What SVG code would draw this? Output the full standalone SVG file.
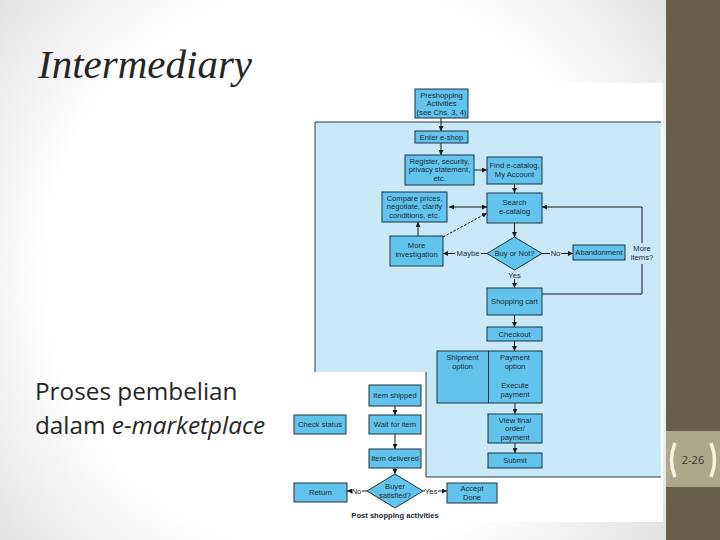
<svg xmlns="http://www.w3.org/2000/svg" width="720" height="540" viewBox="0 0 720 540">
<defs>
<radialGradient id="bg" cx="330" cy="270" r="520" gradientUnits="userSpaceOnUse">
<stop offset="0.55" stop-color="#ffffff"/>
<stop offset="1" stop-color="#cfcfcf"/>
</radialGradient>
<marker id="ah" viewBox="0 0 6 6" refX="6" refY="3" markerWidth="5" markerHeight="5" orient="auto-start-reverse" markerUnits="userSpaceOnUse">
<path d="M0,0 L6,3 L0,6 Z" fill="#1a1a1a"/>
</marker>
<style>
.box{fill:#62c4ec;stroke:#1c3340;stroke-width:1}
.t{font-family:"Liberation Sans",Arial,sans-serif;font-size:7.6px;fill:#1c2a33;text-anchor:middle}
.c{fill:none;stroke:#1a1a1a;stroke-width:1}
.a{marker-end:url(#ah)}
</style>
</defs>
<rect width="720" height="540" fill="url(#bg)"/>
<rect x="290" y="83" width="373" height="439" fill="#ffffff"/>
<rect x="666" y="0" width="54" height="540" fill="#675f49"/>
<rect x="666" y="431" width="54" height="56" fill="#aca889"/>
<g id="pagenum">
<path d="M675,443 Q668,460 675,477" fill="none" stroke="#f6f2df" stroke-width="3.5"/>
<path d="M711,443 Q718,460 711,477" fill="none" stroke="#f6f2df" stroke-width="3.5"/>
<text x="693" y="464" font-family="'Open Sans','DejaVu Sans',sans-serif" font-size="11" fill="#3a3626" text-anchor="middle">2-26</text>
</g>
<text x="38" y="78" font-family="'Liberation Serif','DejaVu Serif',serif" font-style="italic" font-size="41" fill="#262626">Intermediary</text>
<text font-family="'Open Sans','Noto Sans',sans-serif" font-size="24.3" fill="#262626">
<tspan x="35" y="400">Proses pembelian</tspan>
<tspan x="35" y="434">dalam <tspan font-style="italic">e-marketplace</tspan></tspan>
</text>
<g id="region">
<path d="M315,122 H661 V477 H426 V372 H315 Z" fill="#c9e9f9"/>
<path d="M315,372 V122 H661 M426,372 V477 H661" fill="none" stroke="#2a3a44" stroke-width="1"/>
</g>
<g id="connectors">
<line class="c a" x1="441" y1="118" x2="441" y2="131"/>
<line class="c a" x1="441" y1="143" x2="441" y2="155"/>
<line class="c a" x1="474" y1="170" x2="487" y2="170"/>
<line class="c a" x1="514.5" y1="184" x2="514.5" y2="193"/>
<line class="c a" x1="449" y1="207" x2="487" y2="207" marker-start="url(#ah)"/>
<line class="c a" x1="418" y1="236" x2="418" y2="222"/>
<line class="c a" x1="443" y1="237" x2="487" y2="213" stroke-dasharray="2.5,1.5"/>
<line class="c a" x1="514.5" y1="223" x2="514.5" y2="237"/>
<line class="c" x1="487" y1="253.5" x2="481" y2="253.5"/>
<line class="c a" x1="455" y1="253.5" x2="443" y2="253.5"/>
<line class="c" x1="542" y1="253.5" x2="550" y2="253.5"/>
<line class="c a" x1="561" y1="253.5" x2="573" y2="253.5"/>
<line class="c a" x1="514.5" y1="279" x2="514.5" y2="288"/>
<polyline class="c" points="542,294 642,294 642,264"/>
<polyline class="c a" points="642,243 642,207 542,207"/>
<line class="c a" x1="514.5" y1="315" x2="514.5" y2="327"/>
<line class="c a" x1="514.5" y1="341" x2="514.5" y2="351"/>
<line class="c a" x1="515" y1="371" x2="515" y2="380"/>
<line class="c a" x1="515" y1="403" x2="515" y2="414"/>
<line class="c a" x1="515" y1="443" x2="515" y2="453"/>
<line class="c a" x1="395" y1="406" x2="395" y2="415"/>
<line class="c a" x1="395" y1="434" x2="395" y2="449"/>
<line class="c a" x1="395" y1="468" x2="395" y2="474"/>
<line class="c" x1="367" y1="491" x2="362" y2="491"/>
<line class="c a" x1="351" y1="491" x2="347" y2="491"/>
<line class="c" x1="423" y1="491" x2="425" y2="491"/>
<line class="c a" x1="438" y1="491" x2="447" y2="491"/>
<text class="t" x="468" y="256">Maybe</text>
<text class="t" x="555.5" y="256">No</text>
<text class="t" x="514.5" y="277.5">Yes</text>
<text class="t"><tspan x="642" y="251">More</tspan><tspan x="642" y="259.5">items?</tspan></text>
<text class="t" x="356.5" y="494">No</text>
<text class="t" x="431" y="494">Yes</text>
</g>
<g id="preshopping"><rect class="box" x="415" y="89" width="53" height="29"/><text class="t"><tspan x="441.5" y="97.5">Preshopping</tspan><tspan x="441.5" y="106">Activities</tspan><tspan x="441.5" y="114.5">(see Chs. 3, 4)</tspan></text></g>
<g id="enter"><rect class="box" x="415" y="131" width="53" height="12"/><text class="t" x="441.5" y="139.8">Enter e-shop</text></g>
<g id="register"><rect class="box" x="405" y="155" width="69" height="30"/><text class="t"><tspan x="439.5" y="163.5">Register, security,</tspan><tspan x="439.5" y="172">privacy statement,</tspan><tspan x="439.5" y="180.5">etc.</tspan></text></g>
<g id="find"><rect class="box" x="487" y="157" width="55" height="27"/><text class="t"><tspan x="514.5" y="168">Find e-catalog,</tspan><tspan x="514.5" y="176.5">My Account</tspan></text></g>
<g id="compare"><rect class="box" x="382" y="192" width="65" height="30"/><text class="t"><tspan x="414.5" y="200.5">Compare prices,</tspan><tspan x="414.5" y="209">negotiate, clarify</tspan><tspan x="414.5" y="217.5">conditions, etc.</tspan></text></g>
<g id="search"><rect class="box" x="487" y="193" width="55" height="30"/><text class="t"><tspan x="514.5" y="205">Search</tspan><tspan x="514.5" y="213.5">e-catalog</tspan></text></g>
<g id="moreinv"><rect class="box" x="390" y="236" width="53" height="30"/><text class="t"><tspan x="416.5" y="248">More</tspan><tspan x="416.5" y="256.5">investigation</tspan></text></g>
<g id="buyornot"><polygon class="box" points="514.5,237 542,253.5 514.5,270 487,253.5"/><text class="t" x="514.5" y="256.3">Buy or Not?</text></g>
<g id="abandonment"><rect class="box" x="573" y="245" width="52" height="15"/><text class="t" x="599" y="255.3">Abandonment</text></g>
<g id="cart"><rect class="box" x="487" y="288" width="55" height="27"/><text class="t" x="514.5" y="304">Shopping cart</text></g>
<g id="checkout"><rect class="box" x="487" y="327" width="55" height="14"/><text class="t" x="514.5" y="336.8">Checkout</text></g>
<g id="shippay"><rect class="box" x="437" y="351" width="105" height="52"/><line x1="488.5" y1="351" x2="488.5" y2="403" stroke="#1c3340" stroke-width="1"/>
<text class="t"><tspan x="462.5" y="360">Shipment</tspan><tspan x="462.5" y="368.5">option</tspan></text>
<text class="t"><tspan x="515" y="360">Payment</tspan><tspan x="515" y="368.5">option</tspan></text>
<text class="t"><tspan x="515" y="388">Execute</tspan><tspan x="515" y="396.5">payment</tspan></text></g>
<g id="viewfinal"><rect class="box" x="488" y="414" width="54" height="29"/><text class="t"><tspan x="515" y="422.5">View final</tspan><tspan x="515" y="431">order/</tspan><tspan x="515" y="439.5">payment</tspan></text></g>
<g id="submit"><rect class="box" x="488" y="453" width="54" height="15"/><text class="t" x="515" y="463.3">Submit</text></g>
<g id="shipped"><rect class="box" x="369" y="385" width="52" height="21"/><text class="t" x="395" y="398.3">Item shipped</text></g>
<g id="checkstatus"><rect class="box" x="294" y="415" width="52" height="19"/><text class="t" x="320" y="427.3">Check status</text></g>
<g id="wait"><rect class="box" x="369" y="415" width="52" height="19"/><text class="t" x="395" y="427.3">Wait for item</text></g>
<g id="delivered"><rect class="box" x="369" y="449" width="52" height="19"/><text class="t" x="395" y="461.3">Item delivered</text></g>
<g id="satisfied"><polygon class="box" points="395,474 423,491 395,508 367,491"/><text class="t"><tspan x="395" y="489">Buyer</tspan><tspan x="395" y="497.5">satisfied?</tspan></text></g>
<g id="return"><rect class="box" x="294" y="483" width="53" height="19"/><text class="t" x="320.5" y="495.3">Return</text></g>
<g id="accept"><rect class="box" x="447" y="483" width="50" height="20"/><text class="t"><tspan x="472" y="491">Accept</tspan><tspan x="472" y="499.5">Done</tspan></text></g>
<text x="395" y="518" font-family="'Liberation Sans',Arial,sans-serif" font-size="7.6" font-weight="bold" fill="#1c2a33" text-anchor="middle">Post shopping activities</text>
</svg>
